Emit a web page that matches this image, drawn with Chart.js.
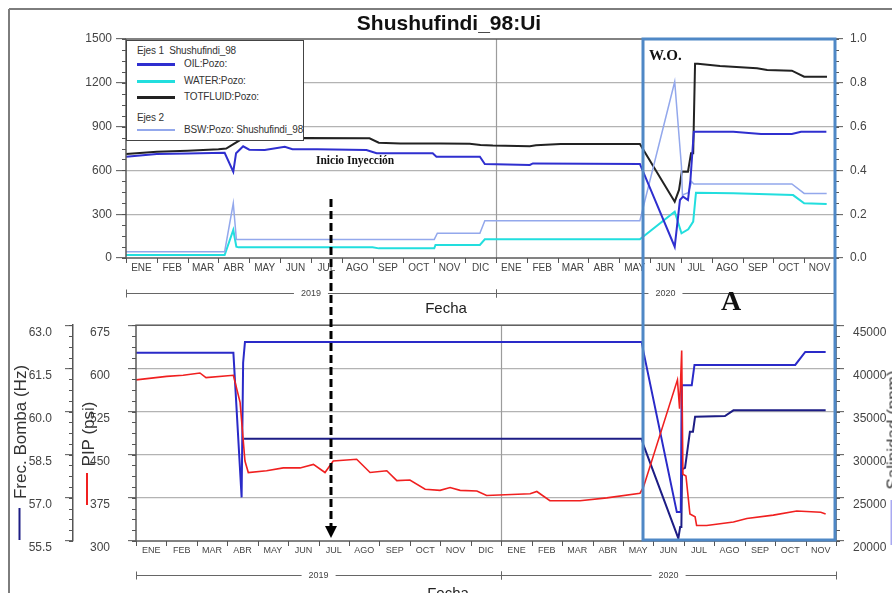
<!DOCTYPE html>
<html><head><meta charset="utf-8">
<script src="https://cdn.jsdelivr.net/npm/chart.js@4.4.1/dist/chart.umd.min.js"></script>
<style>
html,body{margin:0;padding:0;background:#fff;overflow:hidden;}
#wrap{position:relative;width:892px;height:593px;overflow:hidden;font-family:"Liberation Sans",Arial,sans-serif;background:#fff;}
canvas{position:absolute;left:0;z-index:1;}
#c1{top:0;} #c2{top:300px;}
.t{position:absolute;white-space:nowrap;color:#222;z-index:6;line-height:1;}
.rot{transform:translate(-50%,-50%) rotate(-90deg);}
.ser{font-family:"Liberation Serif","Times New Roman",serif;font-weight:bold;color:#111;}
#legend{position:absolute;left:126px;top:40px;width:176px;height:99px;border:1px solid #444;background:#fff;z-index:3;font-size:10px;letter-spacing:-0.15px;color:#333;}
#legend div{position:absolute;white-space:nowrap;line-height:14px;}
#legend .ln{height:3px;width:38px;left:10px;}
#svg{position:absolute;left:0;top:0;z-index:5;}
</style></head>
<body>
<div id="wrap">
<canvas id="c1" width="892" height="300"></canvas>
<canvas id="c2" width="892" height="293"></canvas>
<div id="legend">
  <div style="left:10px;top:3px;">Ejes 1&nbsp; Shushufindi_98</div>
  <div class="ln" style="top:22px;background:#2f2fcf;"></div><div style="left:57px;top:16px;">OIL:Pozo:</div>
  <div class="ln" style="top:39px;background:#22dede;"></div><div style="left:57px;top:33px;">WATER:Pozo:</div>
  <div class="ln" style="top:55px;background:#222;"></div><div style="left:57px;top:49px;">TOTFLUID:Pozo:</div>
  <div style="left:10px;top:70px;">Ejes 2</div>
  <div class="ln" style="top:88px;height:1.5px;background:#93a8ec;"></div><div style="left:57px;top:82px;">BSW:Pozo: Shushufindi_98</div>
</div>
<svg id="svg" width="892" height="593">
  <line x1="9" y1="9" x2="892" y2="9" stroke="#7d7d7d" stroke-width="2"/>
  <line x1="9" y1="9" x2="9" y2="593" stroke="#7d7d7d" stroke-width="2"/>
  <rect x="643" y="39" width="192" height="501" fill="none" stroke="#4f88c6" stroke-width="3"/>
  <line x1="331" y1="199" x2="331" y2="527" stroke="#000" stroke-width="3" stroke-dasharray="8 4"/>
  <polygon points="325,526 337,526 331,538" fill="#000"/>
  <line x1="19.5" y1="508" x2="19.5" y2="540" stroke="#1d1d85" stroke-width="2"/>
  <line x1="87" y1="473" x2="87" y2="505" stroke="#f02020" stroke-width="2"/>
  <line x1="892" y1="500" x2="892" y2="545" stroke="#a9a9f2" stroke-width="3"/>
</svg>
<div class="t" style="left:449px;top:22px;transform:translate(-50%,-50%);font-size:21px;font-weight:bold;color:#111;">Shushufindi_98:Ui</div>
<div class="t" style="left:446px;top:307px;transform:translate(-50%,-50%);font-size:15px;">Fecha</div>
<div class="t" style="left:448px;top:592px;transform:translate(-50%,-50%);font-size:15px;">Fecha</div>
<div class="t ser" style="left:316px;top:161px;transform:translateY(-50%);font-size:11.5px;">Inicio Inyección</div>
<div class="t ser" style="left:649px;top:55px;transform:translateY(-50%);font-size:15px;">W.O.</div>
<div class="t ser" style="left:721px;top:301px;transform:translateY(-50%);font-size:28px;">A</div>
<div class="t rot" style="left:20px;top:432px;font-size:17px;color:#333;">Frec. Bomba (Hz)</div>
<div class="t rot" style="left:88px;top:434px;font-size:17px;color:#333;">PIP (psi)</div>
<div class="t rot" style="left:893px;top:430px;font-size:17px;color:#333;">Salinidad (ppm)</div>
</div>
<script>
// ---------- categories / ticks ----------
const MONTHS = ['ENE','FEB','MAR','ABR','MAY','JUN','JUL','AGO','SEP','OCT','NOV','DIC','ENE','FEB','MAR','ABR','MAY','JUN','JUL','AGO','SEP','OCT','NOV'];
const YEARS = ['2019','2020'];
const YEAR_START = [0, 12];
const YEAR_END = [12, 23];
const FLUID_TICKS = ['0','300','600','900','1200','1500'];
const BSW_TICKS = ['0.0','0.2','0.4','0.6','0.8','1.0'];
const FREC_TICKS = ['55.5','57.0','58.5','60.0','61.5','63.0'];
const PIP_TICKS = ['300','375','450','525','600','675'];
const SAL_TICKS = ['20000','25000','30000','35000','40000','45000'];

// ---------- top chart series (x = months since ENE 2019) ----------
const OIL_M = [0,1,2,3.2,3.48,3.57,3.8,4.0,4.5,5.15,5.4,6.2,7.8,8.13,9.95,10.07,11.48,11.64,13.1,13.2,16.67,17.8,17.97,18.07,18.23,18.31,18.42,19.7,20.6,21.6,21.9,22.72];
const OIL_V = [694,712,715,721,591,717,765,742,740,762,745,745,740,717,717,694,694,644,637,648,644,77,397,420,397,534,865,865,849,849,865,865];
const WAT_M = [0,3.2,3.48,3.58,3.65,8.0,8.2,10.0,10.04,11.48,11.64,16.67,17.8,18.02,18.24,18.4,18.49,19.7,21.64,22.0,22.73];
const WAT_V = [20,20,192,77,73,73,66,66,89,89,128,128,317,169,197,249,447,443,431,375,370];
const TOT_M = [0,1,2,3,3.25,3.7,4.35,5.8,7.9,8.2,8.9,10.2,11.15,11.5,11.9,13.1,13.3,14.1,16.67,17.8,17.94,18.03,18.23,18.33,18.4,18.46,18.55,19.27,20.47,20.8,21.6,22.0,22.74];
const TOT_V = [712,728,735,745,750,808,815,822,820,790,785,785,782,774,770,766,772,780,781,386,466,591,591,718,718,1330,1330,1315,1300,1288,1283,1242,1242];
const BSW_M = [0,3.2,3.48,3.58,10.0,10.1,11.48,11.64,16.67,17.8,18.02,18.05,18.24,18.35,18.42,21.6,22.0,22.73];
const BSW_V = [0.029,0.029,0.25,0.085,0.085,0.113,0.113,0.17,0.17,0.805,0.417,0.288,0.298,0.348,0.338,0.338,0.295,0.295];

// ---------- bottom chart series ----------
const PIP_M = [0,1.01,1.55,2.1,2.3,3.2,3.42,3.58,3.69,4.29,4.84,5.39,5.83,6.21,6.48,7.25,7.69,8.24,8.57,9.0,9.5,9.99,10.32,10.65,11.2,11.52,12.95,13.17,13.6,14.59,15.47,16.56,16.67,17.79,17.86,17.93,17.97,18.07,18.2,18.37,18.42,18.75,19.63,20.07,20.94,21.71,22.5,22.66];
const PIP_V = [580,586,588,592,584,588,541,439,419,422,427,427,433,419,439,442,419,422,405,406,390,388,393,388,387,379,382,386,370,370,375,383,393,580,530,631,416,413,347,342,327,327,333,339,345,352,350,347];
const FREC_M = [3.55,16.62,16.67,17.82,17.88,17.92,17.94,18.04,18.2,18.3,18.37,19.35,19.63,22.66];
const FREC_V = [59.05,59.05,58.85,55.59,55.99,55.99,57.99,58.04,59.30,59.30,59.82,59.84,60.04,60.04];
const SAL_M = [0,3.2,3.47,3.52,3.58,16.62,16.67,17.77,17.9,17.93,18.26,18.35,21.66,21.99,22.66];
const SAL_V = [41800,41800,25050,40650,43050,43050,42000,23350,23350,38050,38050,40400,40400,41900,41900];

const FONT = '"Liberation Sans", Arial, sans-serif';

const decor = {
  id: 'decor',
  beforeDatasetsDraw(chart) {
    const {ctx, chartArea: a, scales: {x}} = chart;
    const px = Math.round(x.getPixelForValue(YEAR_START[1])) + 0.5;
    ctx.save(); ctx.strokeStyle = '#9c9c9c'; ctx.lineWidth = 1.2;
    ctx.beginPath(); ctx.moveTo(px, a.top); ctx.lineTo(px, a.bottom); ctx.stroke(); ctx.restore();
  },
  afterDraw(chart, args, o) {
    const {ctx, chartArea: a, scales} = chart; const x = scales.x;
    ctx.save();
    ctx.strokeStyle = '#5a5a5a'; ctx.lineWidth = 1.5;
    ctx.strokeRect(a.left, a.top, a.right - a.left, a.bottom - a.top);
    ctx.lineWidth = 1; ctx.strokeStyle = '#555';
    ctx.beginPath();
    for (let i = 0; i <= MONTHS.length; i++) {
      const p = Math.round(x.getPixelForValue(i)) + 0.5;
      ctx.moveTo(p, a.bottom); ctx.lineTo(p, a.bottom + 5);
    }
    o.minor.forEach(([id, n]) => {
      const s = scales[id]; const left = s.position === 'left';
      const e = left ? s.right : s.left; const step = (s.max - s.min) / n;
      for (let k = 0; k <= n; k++) {
        const p = Math.round(s.getPixelForValue(s.min + k * step)) + 0.5;
        ctx.moveTo(e, p); ctx.lineTo(left ? e - 4 : e + 4, p);
      }
    });
    ctx.stroke();
    // year brackets
    const y = o.bracketY + 0.5;
    ctx.strokeStyle = '#666'; ctx.fillStyle = '#444';
    ctx.font = '9px ' + FONT; ctx.textAlign = 'center'; ctx.textBaseline = 'middle';
    ctx.beginPath();
    YEARS.forEach((yr, i) => {
      const xa = x.getPixelForValue(YEAR_START[i]), xb = x.getPixelForValue(YEAR_END[i]);
      const c = (xa + xb) / 2;
      ctx.moveTo(xa, y); ctx.lineTo(c - 17, y); ctx.moveTo(c + 17, y); ctx.lineTo(xb, y);
      ctx.moveTo(Math.round(xa) + 0.5, y - 4); ctx.lineTo(Math.round(xa) + 0.5, y + 4);
      ctx.moveTo(Math.round(xb) + 0.5, y - 4); ctx.lineTo(Math.round(xb) + 0.5, y + 4);
      ctx.fillText(yr, c, y);
    });
    ctx.stroke();
    ctx.restore();
  }
};

function ds(M, V, color, w, axis) {
  return {data: M.map((m, i) => ({x: m, y: V[i]})), borderColor: color, borderWidth: w,
    pointRadius: 0, tension: 0, fill: false, yAxisID: axis};
}
function xScale(fs, h) {
  return {type: 'linear', position: 'bottom', min: 0, max: MONTHS.length,
    grid: {display: false, drawTicks: false}, border: {display: false},
    afterBuildTicks: s => { s.ticks = MONTHS.map((_, i) => ({value: i + 0.5})); },
    ticks: {autoSkip: false, maxRotation: 0, minRotation: 0, padding: 4, color: '#444',
      font: {size: fs, family: FONT}, callback: v => MONTHS[Math.floor(v)]},
    afterFit: s => { s.height = h; }};
}
function yScale(pos, labels, pad, w, tl, onArea, off, extra) {
  return Object.assign({type: 'linear', position: pos, min: +labels[0], max: +labels[labels.length - 1],
    afterBuildTicks: s => { s.ticks = labels.map(v => ({value: +v})); },
    ticks: {padding: pad, color: '#444', labelOffset: off, font: {size: 12, family: FONT},
      callback: (v, i) => labels[i]},
    grid: {drawOnChartArea: onArea, tickLength: tl, tickColor: '#555', tickWidth: 1, lineWidth: 1.3,
      color: c => (c.index === 0 || c.index === labels.length - 1) ? 'rgba(0,0,0,0)' : '#b3b3b3'},
    border: {display: false},
    afterFit: s => { s.width = w; }}, extra || {});
}

new Chart(document.getElementById('c1'), {
  type: 'line',
  data: {datasets: [
    ds(OIL_M, OIL_V, '#2f2fcf', 2, 'y'),
    ds(BSW_M, BSW_V, '#93a8ec', 1.5, 'y1'),
    ds(WAT_M, WAT_V, '#22dede', 2, 'y'),
    ds(TOT_M, TOT_V, '#222222', 2, 'y')
  ]},
  options: {
    responsive: false, animation: false, devicePixelRatio: 1,
    layout: {padding: {top: 39, left: 0, right: 0, bottom: 0}},
    plugins: {legend: {display: false}, tooltip: {enabled: false},
      decor: {minor: [['y', 20], ['y1', 20]], bracketY: 293}},
    scales: {
      x: xScale(10, 42),
      y: yScale('left', FLUID_TICKS, 4, 126, 10, true, 0),
      y1: yScale('right', BSW_TICKS, 7, 57, 8, false, 0)
    }
  },
  plugins: [decor]
});

new Chart(document.getElementById('c2'), {
  type: 'line',
  data: {datasets: [
    ds(PIP_M, PIP_V, '#f02020', 1.6, 'y'),
    ds(SAL_M, SAL_V, '#2a2ac8', 2, 'yS'),
    ds(FREC_M, FREC_V, '#1d1d85', 2, 'yF')
  ]},
  options: {
    responsive: false, animation: false, devicePixelRatio: 1,
    layout: {padding: {top: 22, left: 0, right: 0, bottom: 0}},
    plugins: {legend: {display: false}, tooltip: {enabled: false},
      decor: {minor: [['y', 20], ['yF', 20], ['yS', 20]], bracketY: 275}},
    scales: {
      x: xScale(9, 52),
      yF: yScale('left', FREC_TICKS, 13, 73, 8, false, 7,
        {weight: 1, border: {display: true, color: '#555', width: 1.5}}),
      y: yScale('left', PIP_TICKS, 18, 63, 8, true, 7, {weight: 0}),
      yS: yScale('right', SAL_TICKS, 9, 56, 8, false, 7)
    }
  },
  plugins: [decor]
});
</script>
</body></html>
